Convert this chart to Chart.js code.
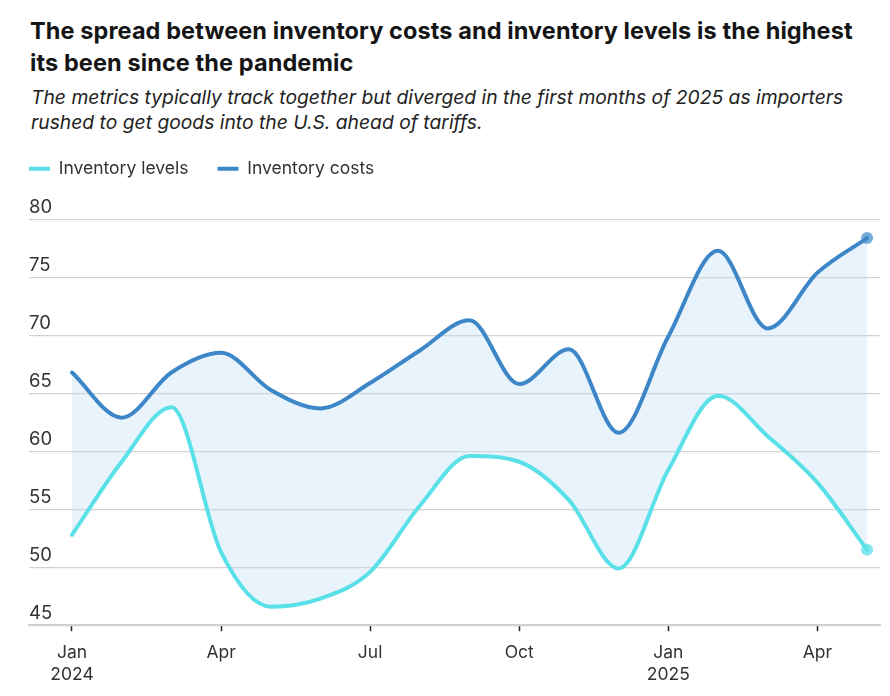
<!DOCTYPE html>
<html lang="en">
<head>
  <meta charset="utf-8" />
  <title>Inventory levels vs inventory costs</title>
  <script src="https://cdn.jsdelivr.net/npm/chart.js"></script>
  <style>
    html, body { margin: 0; padding: 0; background: #fff; }
    body { width: 890px; height: 696px; position: relative; overflow: hidden; font-family: Inter, sans-serif; }
    #head { position: absolute; left: 30px; top: 15px; width: 850px; }
    h1 { margin: 0; font-size: 23.5px; line-height: 32px; font-weight: 700; color: #151515; letter-spacing: 0.1px; }
    p.sub { margin: 6px 0 0 1px; font-size: 19.3px; line-height: 25px; font-style: italic; color: #222; }
    #chart-container { position: absolute; left: 0; top: 131px; width: 890px; height: 565px; }
  </style>
</head>
<body>
  <div id="head">
    <h1>The spread between inventory costs and inventory levels is the highest its been since the pandemic</h1>
    <p class="sub">The metrics typically track together but diverged in the first months of 2025 as importers rushed to get goods into the U.S. ahead of tariffs.</p>
  </div>

  <div id="chart-container">
    <canvas id="invChart"></canvas>
  </div>

  <script>
    // monthly readings, Jan 2024 .. May 2025
    const months = ['Jan 2024', 'Feb 2024', 'Mar 2024', 'Apr 2024', 'May 2024', 'Jun 2024',
                    'Jul 2024', 'Aug 2024', 'Sep 2024', 'Oct 2024', 'Nov 2024', 'Dec 2024',
                    'Jan 2025', 'Feb 2025', 'Mar 2025', 'Apr 2025', 'May 2025'];
    const tickLabels = [['Jan', '2024'], '', '', 'Apr', '', '', 'Jul', '', '', 'Oct', '', '',
                        ['Jan', '2025'], '', '', 'Apr', ''];
    const inventoryLevels = [52.8, 59.1, 63.8, 51.3, 46.6, 47.3, 49.6, 55.3, 59.6,
                             59.1, 55.8, 49.9, 58.4, 64.8, 61.3, 57.3, 51.5];
    const inventoryCosts  = [66.8, 62.9, 66.8, 68.5, 65.3, 63.7, 65.9, 68.7, 71.3,
                             65.8, 68.8, 61.6, 69.9, 77.3, 70.6, 75.4, 78.4];
    const yTicks = [45, 50, 55, 60, 65, 70, 75, 80];

    const LEVELS = '#5ae0e8';
    const COSTS  = '#3d87c8';
    const last = months.length - 1;
    const toPoints = arr => arr.map((v, i) => ({ x: i, y: v }));
    const endDot = ctx => ctx.dataIndex === last ? 6 : 0;
    // legend reads its line width from point 0, so keep a border there only
    const legendBorder = ctx => ctx.dataIndex === last ? 0 : 4;

    // give the legend a little extra room below it
    const legendGap = {
      id: 'legendGap',
      beforeInit(chart) {
        const fit = chart.legend.fit;
        chart.legend.fit = function () { fit.call(this); this.height += 32; };
      }
    };

    const ctx = document.getElementById('invChart').getContext('2d');
    new Chart(ctx, {
      type: 'line',
      data: {
        datasets: [{
          label: 'Inventory levels',
          data: toPoints(inventoryLevels),
          borderColor: LEVELS,
          backgroundColor: LEVELS,
          borderWidth: 4,
          borderCapStyle: 'round',
          cubicInterpolationMode: 'monotone',
          pointRadius: endDot,
          pointBackgroundColor: 'rgba(90,224,232,0.75)',
          pointBorderColor: LEVELS,
          pointBorderWidth: legendBorder,
          fill: false
        }, {
          label: 'Inventory costs',
          data: toPoints(inventoryCosts),
          borderColor: COSTS,
          backgroundColor: 'rgba(190,222,248,0.36)',
          borderWidth: 4,
          borderCapStyle: 'round',
          cubicInterpolationMode: 'monotone',
          pointRadius: endDot,
          pointBackgroundColor: 'rgba(61,135,200,0.7)',
          pointBorderColor: COSTS,
          pointBorderWidth: legendBorder,
          fill: '-1'
        }]
      },
      options: {
        responsive: true,
        maintainAspectRatio: false,
        animation: false,
        events: [],
        layout: { padding: { left: 0, right: 10, top: 0, bottom: 0 } },
        scales: {
          x: {
            type: 'linear',
            min: -0.865,
            max: 16.26,
            afterBuildTicks: axis => { axis.ticks = months.map((m, i) => ({ value: i })); },
            grid: {
              drawOnChartArea: false,
              tickLength: 6,
              tickWidth: 1.5,
              tickColor: c => (c.index % 3 === 0 ? '#222' : 'rgba(0,0,0,0)')
            },
            border: { color: '#cfcfcf', width: 1.5 },
            ticks: {
              autoSkip: false,
              maxRotation: 0,
              padding: 10,
              color: '#333',
              font: { family: 'Inter', size: 17.5, lineHeight: 1.28 },
              callback: v => tickLabels[v]
            }
          },
          y: {
            min: 45,
            max: 80,
            afterBuildTicks: axis => { axis.ticks = yTicks.map(v => ({ value: v })); },
            afterFit: axis => { axis.width = 29; },
            grid: { color: '#d2d2d2', lineWidth: 1.2, drawTicks: false },
            border: { display: false },
            ticks: {
              mirror: true,
              padding: 0,
              labelOffset: -12,
              color: '#333',
              font: { family: 'Inter', size: 18.5 }
            }
          }
        },
        plugins: {
          filler: { drawTime: 'beforeDatasetsDraw' },
          tooltip: { enabled: false },
          legend: {
            position: 'top',
            align: 'start',
            labels: {
              usePointStyle: true,
              pointStyle: 'line',
              pointStyleWidth: 21,
              padding: 29,
              color: '#333',
              font: { family: 'Inter', size: 17.5 }
            }
          }
        }
      },
      plugins: [legendGap]
    });
  </script>
</body>
</html>
